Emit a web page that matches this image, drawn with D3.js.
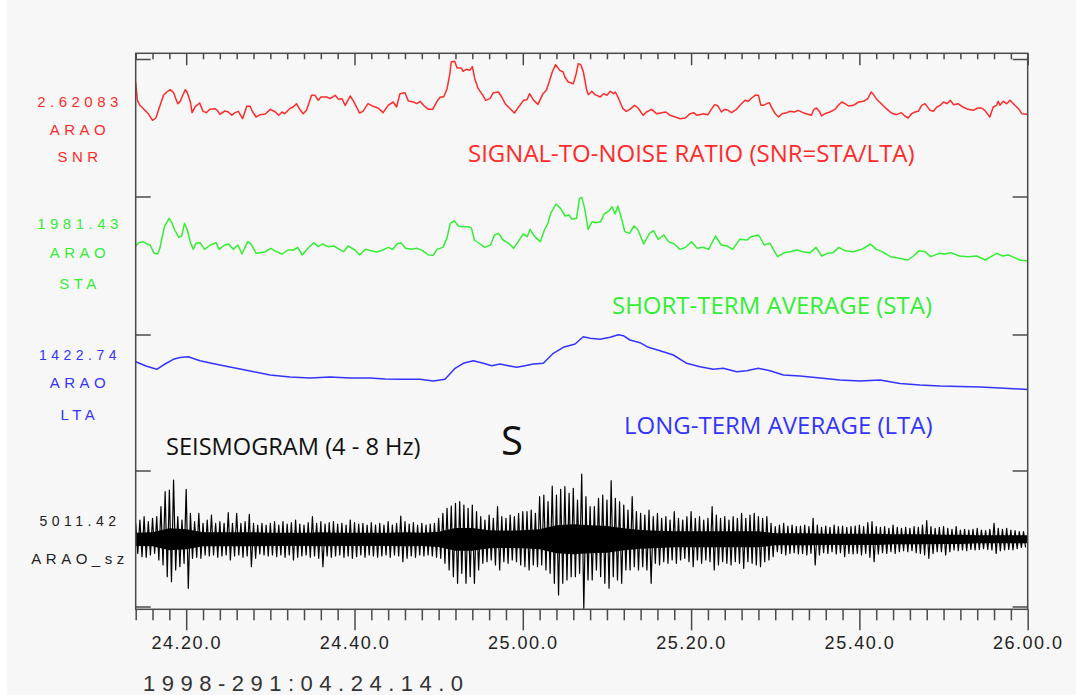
<!DOCTYPE html>
<html>
<head>
<meta charset="utf-8">
<script src="https://cdn.jsdelivr.net/npm/d3@7"></script>
<style>
  body { margin: 0; background: #ffffff; }
  svg { display: block; }
</style>
</head>
<body>
<svg id="chart" width="1076" height="695"></svg>
<script>
// ---------------------------------------------------------------
// ARAO vertical component, 1998-291 04:24:14.0, 4-8 Hz band.
// Time is in seconds after the trace start (24 min 14 s).
// ---------------------------------------------------------------
const traceStart = "1998-291:04.24.14.0";
const station = "ARAO";
const seriesNames = ["SNR", "STA", "LTA"];
const seismoName = "ARAO_sz";
const peakLabels = ["2.62083", "1981.43", "1422.74", "5011.42"];
const tickSeconds = [6, 26, 46, 66, 86, 106];
const tickLabels = ["24.20.0", "24.40.0", "25.00.0", "25.20.0", "25.40.0", "26.00.0"];
const titles = ["SIGNAL-TO-NOISE RATIO (SNR=STA/LTA)", "SHORT-TERM AVERAGE (STA)",
                "LONG-TERM AVERAGE (LTA)", "SEISMOGRAM (4 - 8 Hz)"];
const phaseLabel = "S";

// signal-to-noise ratio [t, STA/LTA]
const snr = [
  [0.0,1.98],[0.2,1.45],[0.5,1.30],[1.1,1.15],[1.5,1.05],[2.0,0.85],[2.4,0.92],[2.9,1.30],
  [3.3,1.60],[3.7,1.70],[4.1,1.77],[4.5,1.68],[5.0,1.35],[5.3,1.42],[5.6,1.60],[5.9,1.77],
  [6.1,1.70],[6.5,1.40],[6.7,1.08],[7.1,1.27],[7.6,1.37],[8.0,1.12],[8.4,1.08],[8.8,1.18],
  [9.4,1.20],[9.7,1.15],[10.0,1.03],[10.6,1.13],[11.0,1.10],[11.4,1.00],[11.8,1.08],[12.2,1.12],
  [12.7,0.90],[13.2,1.27],[13.6,1.27],[13.8,1.15],[14.3,0.95],[14.8,1.02],[15.4,1.04],[16.0,1.18],
  [16.6,1.10],[17.0,1.00],[17.4,1.10],[17.7,1.05],[18.3,1.20],[18.7,1.25],[19.1,1.35],[19.5,1.18],
  [19.9,1.05],[20.3,1.15],[20.9,1.60],[21.3,1.60],[21.7,1.45],[22.0,1.55],[22.7,1.55],[23.1,1.50],
  [23.7,1.60],[24.1,1.48],[24.5,1.50],[24.9,1.30],[25.5,1.58],[25.9,1.42],[26.6,1.07],[27.0,1.12],
  [27.6,1.35],[28.2,1.27],[28.8,1.22],[29.4,1.08],[30.0,1.30],[30.6,1.40],[31.0,1.25],[31.4,1.65],
  [32.0,1.68],[32.4,1.43],[33.0,1.40],[33.4,1.35],[33.8,1.42],[34.2,1.30],[34.8,1.18],[35.3,1.18],
  [35.8,1.42],[36.2,1.55],[36.6,1.55],[37.0,1.80],[37.3,2.20],[37.5,2.60],[37.9,2.62],[38.2,2.42],
  [38.7,2.42],[38.9,2.32],[39.3,2.38],[39.7,2.35],[40.0,2.46],[40.3,2.10],[40.7,1.80],[41.2,1.62],
  [41.6,1.45],[42.1,1.50],[42.5,1.68],[43.1,1.70],[43.5,1.55],[43.9,1.35],[44.5,1.20],[45.0,1.07],
  [45.5,1.25],[46.1,1.45],[46.5,1.47],[46.8,1.65],[47.3,1.45],[47.8,1.33],[48.4,1.65],[48.8,1.75],
  [49.2,2.05],[49.5,2.30],[49.9,2.52],[50.4,2.35],[50.8,2.30],[51.0,2.15],[51.4,2.00],[52.0,1.95],
  [52.3,2.20],[52.6,2.55],[52.9,2.52],[53.2,2.30],[53.6,1.75],[53.8,1.62],[54.2,1.72],[54.6,1.62],
  [55.2,1.55],[55.6,1.65],[56.0,1.60],[56.4,1.72],[56.8,1.65],[57.0,1.70],[57.4,1.50],[57.9,1.20],
  [58.3,1.12],[58.7,1.18],[59.3,1.30],[59.7,1.22],[60.3,1.00],[60.7,1.10],[61.3,1.18],[61.9,1.05],
  [62.5,1.08],[63.0,1.10],[63.5,1.00],[64.1,0.95],[64.7,0.90],[65.3,0.92],[65.9,1.05],[66.3,1.08],
  [66.7,1.00],[67.5,1.05],[68.0,1.02],[68.4,1.18],[68.8,1.32],[69.2,1.28],[69.6,1.10],[70.0,1.18],
  [70.4,1.15],[70.8,1.08],[71.4,1.18],[71.8,1.30],[72.4,1.45],[72.8,1.42],[73.2,1.52],[73.6,1.60],
  [74.0,1.60],[74.3,1.30],[74.6,1.30],[75.0,1.35],[75.3,1.38],[75.6,1.22],[76.0,1.05],[76.4,0.95],
  [76.8,1.05],[77.4,1.08],[77.7,1.12],[78.3,1.10],[78.7,1.15],[79.3,1.08],[79.7,1.05],[80.3,1.00],
  [80.6,1.18],[80.9,1.22],[81.3,1.10],[81.5,0.98],[81.9,1.05],[82.5,1.10],[83.1,1.18],[83.5,1.30],
  [83.9,1.40],[84.3,1.35],[84.7,1.28],[85.3,1.30],[85.9,1.40],[86.5,1.42],[87.0,1.50],[87.4,1.70],
  [87.6,1.65],[88.0,1.50],[88.6,1.35],[89.2,1.20],[89.8,1.07],[90.4,1.02],[91.0,1.08],[91.4,0.98],
  [91.8,0.92],[92.2,1.05],[92.6,1.10],[93.0,1.12],[93.4,1.30],[93.8,1.35],[94.4,1.15],[94.8,1.12],
  [95.2,1.25],[95.6,1.30],[96.0,1.40],[96.4,1.35],[96.8,1.45],[97.2,1.32],[97.7,1.35],[98.3,1.25],
  [98.9,1.18],[99.5,1.15],[100.1,1.22],[100.5,1.22],[100.9,1.15],[101.5,0.95],[101.9,1.25],[102.3,1.30],
  [102.5,1.42],[102.7,1.30],[103.1,1.42],[103.5,1.35],[103.9,1.45],[104.3,1.35],[104.9,1.20],[105.3,1.05],
  [105.9,1.03],[106.0,1.03]
];

// short-term average [t, counts]
const sta = [
  [0.0,1250],[0.35,1300],[0.82,1315],[1.37,1280],[1.71,1265],[2.19,1140],[2.60,1130],[2.87,1215],
  [3.07,1340],[3.42,1540],[3.76,1615],[3.96,1665],[4.23,1615],[4.64,1490],[5.12,1380],[5.46,1400],
  [5.80,1590],[6.14,1490],[6.48,1315],[6.83,1200],[7.17,1290],[7.65,1300],[8.19,1200],[8.87,1265],
  [9.55,1300],[9.90,1200],[10.58,1265],[11.05,1280],[11.60,1200],[12.15,1265],[12.62,1130],[13.31,1315],
  [13.65,1290],[14.33,1140],[15.35,1160],[16.04,1215],[16.72,1165],[17.40,1130],[18.08,1190],[18.76,1190],
  [19.24,1230],[19.79,1115],[20.47,1215],[21.15,1300],[21.70,1240],[22.17,1280],[22.86,1240],[23.54,1250],
  [24.22,1200],[24.70,1165],[25.24,1250],[26.06,1190],[26.61,1115],[27.29,1200],[27.97,1180],[28.65,1160],
  [29.34,1190],[30.02,1230],[30.56,1200],[31.04,1280],[31.52,1300],[32.06,1215],[32.75,1200],[33.43,1215],
  [34.11,1180],[34.79,1115],[35.34,1110],[35.82,1200],[36.50,1230],[36.98,1365],[37.38,1590],[37.86,1630],
  [38.34,1550],[38.88,1540],[39.57,1540],[39.91,1515],[40.25,1340],[40.93,1280],[41.48,1230],[42.16,1265],
  [42.64,1415],[43.12,1440],[43.66,1340],[44.34,1290],[44.89,1215],[45.37,1300],[46.05,1430],[46.53,1390],
  [46.87,1500],[47.41,1390],[48.09,1315],[48.57,1490],[48.98,1590],[49.32,1740],[49.94,1880],[50.48,1815],
  [51.03,1700],[51.51,1715],[51.85,1650],[52.39,1665],[52.73,1965],[53.01,1980],[53.35,1815],[53.76,1500],
  [54.24,1615],[54.71,1600],[55.26,1615],[55.67,1730],[56.28,1780],[56.62,1840],[56.96,1730],[57.30,1850],
  [57.78,1640],[58.12,1465],[58.67,1440],[59.22,1550],[59.69,1490],[60.37,1280],[61.06,1440],[61.53,1480],
  [62.08,1350],[62.76,1415],[63.31,1315],[63.99,1280],[64.67,1200],[65.35,1230],[66.04,1315],[66.72,1215],
  [67.40,1230],[68.08,1200],[68.90,1400],[69.58,1265],[70.26,1250],[70.95,1200],[71.77,1350],[72.65,1340],
  [73.13,1390],[74.02,1415],[74.70,1265],[75.38,1290],[76.27,1090],[77.09,1150],[77.77,1165],[78.59,1190],
  [79.27,1165],[80.16,1150],[80.84,1230],[81.52,1100],[82.20,1140],[82.88,1150],[83.56,1230],[84.25,1180],
  [85.27,1165],[86.29,1200],[87.32,1280],[88.00,1200],[88.68,1165],[89.70,1090],[90.73,1065],[91.75,1040],
  [92.43,1100],[93.11,1180],[93.80,1165],[94.48,1090],[95.50,1140],[96.18,1130],[96.87,1150],[97.89,1100],
  [98.91,1090],[99.94,1100],[100.96,1040],[101.64,1090],[102.32,1140],[103.01,1100],[103.69,1115],[104.37,1080],
  [105.05,1040],[105.73,1030],[106.0,1030]
];

// long-term average [t, counts]
const lta = [
  [0.0,1153],[1.22,1110],[2.50,1077],[3.48,1130],[4.47,1177],[5.26,1195],[6.25,1203],[7.64,1163],
  [9.42,1130],[11.21,1100],[13.58,1060],[15.96,1020],[18.34,1000],[20.72,990],[23.09,1000],[25.47,990],
  [27.85,990],[29.63,980],[31.41,977],[33.79,977],[35.37,960],[36.76,977],[37.95,1087],[38.93,1137],
  [40.12,1163],[41.31,1137],[42.31,1113],[43.29,1130],[44.28,1113],[45.28,1097],[46.26,1113],[47.25,1130],
  [48.44,1137],[49.63,1237],[50.81,1297],[52.21,1330],[53.19,1403],[53.99,1387],[55.18,1377],[56.37,1397],
  [57.35,1423],[57.94,1413],[58.74,1370],[59.93,1343],[60.91,1297],[62.31,1263],[63.89,1220],[65.48,1137],
  [67.06,1103],[68.64,1077],[69.83,1087],[71.42,1053],[72.61,1063],[73.99,1087],[75.38,1063],[76.96,1020],
  [78.94,1010],[81.32,990],[83.69,970],[86.07,960],[88.45,970],[90.82,935],[93.20,920],[95.58,910],
  [97.95,905],[100.33,900],[102.71,890],[106.0,875]
];

// seismogram: largest and smallest amplitude (counts) in each half-second bin
const seisBin = 0.5;
const seisMax = [
  1200,1450,1700,1325,1575,1700,2450,3575,3700,4450,1700,1450,3750,1950,1325,1950,
  1200,1450,1825,1200,1325,1200,2000,1200,1950,1200,1325,1875,1200,1075,1200,1075,
  1200,1325,1075,1325,1150,1250,1450,1150,1075,1250,1700,1200,1325,1150,1250,1325,
  1150,1200,1075,1450,1250,1150,1200,1075,1250,1075,1200,1075,1325,1075,1200,1750,
  1325,1150,1250,1075,1200,1075,1150,1200,1575,1950,2325,2500,2700,2825,2575,2325,
  2575,2075,1700,1450,1825,1575,2450,1700,1575,1825,1700,1950,2075,2075,2200,1950,
  3200,3325,2825,4000,3325,3750,3950,3450,3825,2950,4900,3200,2450,2450,3075,3325,
  2950,4400,3075,2825,2575,2200,3200,2075,1950,1825,2200,1700,1950,1575,1700,1450,
  2075,1575,1450,1700,2075,1575,1700,1450,1575,2450,1825,1575,1700,1450,1700,1575,
  1950,1575,1825,1950,1700,1575,1700,1200,950,1075,1200,1000,1075,950,1000,1075,
  950,1575,1075,900,1000,900,1075,950,1000,900,950,1000,1075,950,1250,1325,
  950,900,950,825,1075,900,825,900,825,950,900,1075,1400,950,825,900,
  950,825,750,950,700,750,700,750,825,700,650,750,1200,825,750,825,
  700,650,575,575
];
const seisMin = [
  -1050,-1300,-1350,-1175,-1050,-1550,-1925,-2800,-3175,-2300,-2050,-1800,-3675,-1425,-1350,-1425,
  -1175,-1250,-1175,-1350,-1250,-1175,-1550,-1250,-1175,-1350,-1250,-2050,-1425,-1100,-1175,-1250,
  -1175,-1300,-1175,-1350,-1175,-1550,-1350,-1250,-1175,-1350,-1250,-1425,-2050,-1250,-1350,-1250,
  -1175,-1350,-1250,-1425,-1300,-1175,-1350,-1175,-1250,-1350,-1250,-1175,-1350,-1175,-1250,-1675,
  -1425,-1250,-1350,-1175,-1250,-1175,-1250,-1350,-1425,-1800,-2300,-2800,-3300,-2550,-3300,-2800,
  -3300,-2300,-1800,-1675,-1550,-1925,-2300,-1675,-1800,-1550,-1675,-1925,-2050,-2300,-1925,-2050,
  -1925,-2300,-2550,-3300,-4175,-3300,-3050,-2800,-2800,-2550,-5175,-3050,-3050,-2300,-2800,-3300,
  -3675,-2800,-3050,-3300,-2300,-2300,-2050,-2300,-2050,-2300,-3300,-1800,-1925,-1675,-1800,-1550,
  -1800,-1550,-1425,-1675,-2050,-1550,-1800,-1550,-1675,-2300,-1925,-1675,-1800,-1925,-1675,-1800,
  -2175,-1675,-1800,-1925,-2050,-1675,-1550,-1300,-925,-1050,-1175,-1050,-1000,-1100,-1050,-1175,
  -1050,-1925,-1175,-1000,-1050,-925,-1100,-1000,-1300,-1050,-1100,-1050,-1175,-1050,-1350,-1675,
  -1100,-1000,-1050,-925,-1050,-925,-850,-925,-850,-1000,-1050,-1175,-1425,-1050,-925,-925,
  -1175,-925,-800,-850,-800,-850,-750,-800,-750,-700,-750,-800,-1050,-850,-800,-750,
  -800,-700,-600,-600
];
// seismogram: half-width of the solid black core, every 2 s (counts)
const coreBin = 2;
const seisCore = [
  500,525,825,750,525,525,525,525,500,500,500,525,500,500,500,500,
  525,500,575,850,850,675,650,675,750,1050,1125,1050,1000,825,700,650,
  600,600,600,600,600,600,450,450,450,425,425,425,425,375,375,375,
  350,350,300,300,300,300
];

// ---------------------------------------------------------------
const W = 1076, H = 695;
const frame = { left: 135.7, right: 1027.7, top: 53.3, bottom: 609.3 };
const panelEdges = [59.5, 197, 335, 471, 607];

const colors = { snr: "#ff2b2b", sta: "#33ee33", lta: "#3434ff", seis: "#000000", frame: "#4a4a4a" };
const labelFont = "'Liberation Sans', Arial, sans-serif";
const titleFont = "'Open Sans', 'Noto Sans', sans-serif";

const svg = d3.select("#chart");

svg.append("rect").attr("width", W).attr("height", H).attr("fill", "#ffffff");
svg.append("rect").attr("x", 7).attr("y", 0).attr("width", W - 7).attr("height", H).attr("fill", "#f7f7f7");

const x = d3.scaleLinear().domain([0, 106]).range([frame.left, frame.right]);

const ySnr = d3.scaleLinear().domain([-1.45, 2.675]).range([panelEdges[1], panelEdges[0]]);
const ySta = d3.scaleLinear().domain([-85, 1985]).range([panelEdges[2], panelEdges[1]]);
const yLta = d3.scaleLinear().domain([60, 1420]).range([panelEdges[3], panelEdges[2]]);
const ySeis = d3.scaleLinear().domain([-5075, 5125]).range([panelEdges[4], panelEdges[3]]);

// traces
function drawTrace(data, y, color, width) {
  const line = d3.line().x(d => x(d[0])).y(d => y(d[1])).curve(d3.curveLinear);
  svg.append("path").datum(data)
    .attr("d", line).attr("fill", "none")
    .attr("stroke", color).attr("stroke-width", width)
    .attr("stroke-linejoin", "round");
}

// seismogram core band
const core = d3.area()
  .x((d, i) => x(i * coreBin))
  .y0(d => ySeis(-d)).y1(d => ySeis(d))
  .curve(d3.curveLinear);
svg.append("path").datum(seisCore).attr("d", core).attr("fill", colors.seis);

// seismogram drawn as the max/min swing within each bin
const seisPoints = [];
seisMax.forEach((v, i) => {
  seisPoints.push([i * seisBin, v]);
  seisPoints.push([i * seisBin + seisBin / 2, seisMin[i]]);
});

drawTrace(snr, ySnr, colors.snr, 1.5);
drawTrace(sta, ySta, colors.sta, 1.5);
drawTrace(lta, yLta, colors.lta, 1.5);
drawTrace(seisPoints, ySeis, colors.seis, 1.2);

// frame
svg.append("rect")
  .attr("x", frame.left).attr("y", frame.top)
  .attr("width", frame.right - frame.left).attr("height", frame.bottom - frame.top)
  .attr("fill", "none").attr("stroke", colors.frame).attr("stroke-width", 1.5);

// panel ticks on both sides
panelEdges.forEach(py => {
  svg.append("line").attr("x1", frame.left).attr("x2", frame.left + 15)
    .attr("y1", py).attr("y2", py).attr("stroke", colors.frame).attr("stroke-width", 1.5);
  svg.append("line").attr("x1", frame.right - 15).attr("x2", frame.right)
    .attr("y1", py).attr("y2", py).attr("stroke", colors.frame).attr("stroke-width", 1.5);
});

// time axes
const minorTicks = d3.range(0, 107, 2).filter(t => !tickSeconds.includes(t));

function timeAxis(y, minorLen, majorLen, withLabels) {
  const gMinor = svg.append("g").attr("transform", `translate(0,${y})`)
    .call(d3.axisBottom(x).tickValues(minorTicks).tickSize(minorLen).tickFormat(""));
  const gMajor = svg.append("g").attr("transform", `translate(0,${y})`)
    .call(d3.axisBottom(x).tickValues(tickSeconds).tickSize(majorLen).tickPadding(6)
      .tickFormat((d, i) => withLabels ? tickLabels[i] : ""));
  [gMinor, gMajor].forEach(g => {
    g.select(".domain").remove();
    g.selectAll(".tick line").attr("stroke", colors.frame).attr("stroke-width", 1.5);
  });
  gMajor.selectAll(".tick text")
    .attr("fill", "#222").attr("font-family", labelFont).attr("font-size", 18)
    .attr("letter-spacing", "1.5px");
}
timeAxis(frame.bottom, 11, 21, true);
timeAxis(frame.top, 6, 12, false);

// left-hand trace labels
function leftLabel(text, y, color, size) {
  svg.append("text").attr("x", 80).attr("y", y)
    .attr("text-anchor", "middle").attr("fill", color)
    .attr("font-family", labelFont).attr("font-size", size || 15)
    .attr("letter-spacing", "4.5px").text(text);
}
leftLabel(peakLabels[0], 106.5, colors.snr);
leftLabel(station, 135, colors.snr);
leftLabel(seriesNames[0], 161.5, colors.snr);
leftLabel(peakLabels[1], 228.5, colors.sta);
leftLabel(station, 258, colors.sta);
leftLabel(seriesNames[1], 288.5, colors.sta);
leftLabel(peakLabels[2], 360, colors.lta, 14);
leftLabel(station, 388, colors.lta);
leftLabel(seriesNames[2], 420, colors.lta);
leftLabel(peakLabels[3], 525.5, "#222", 14);
leftLabel(seismoName, 564, "#222");

// panel titles
function title(text, x0, y, color, size) {
  svg.append("text").attr("x", x0).attr("y", y).attr("fill", color)
    .attr("font-family", titleFont).attr("font-size", size).text(text);
}
title(titles[0], 468, 161.5, colors.snr, 24);
title(titles[1], 612, 313.5, colors.sta, 24);
title(titles[2], 624, 433.5, colors.lta, 24);
title(titles[3], 166, 455, "#111", 23.6);
title(phaseLabel, 501, 455, "#111", 40);

// trace start time
svg.append("text").attr("x", 143).attr("y", 691)
  .attr("fill", "#333").attr("font-family", labelFont).attr("font-size", 22)
  .attr("letter-spacing", "6.5px").text(traceStart);
</script>
</body>
</html>
